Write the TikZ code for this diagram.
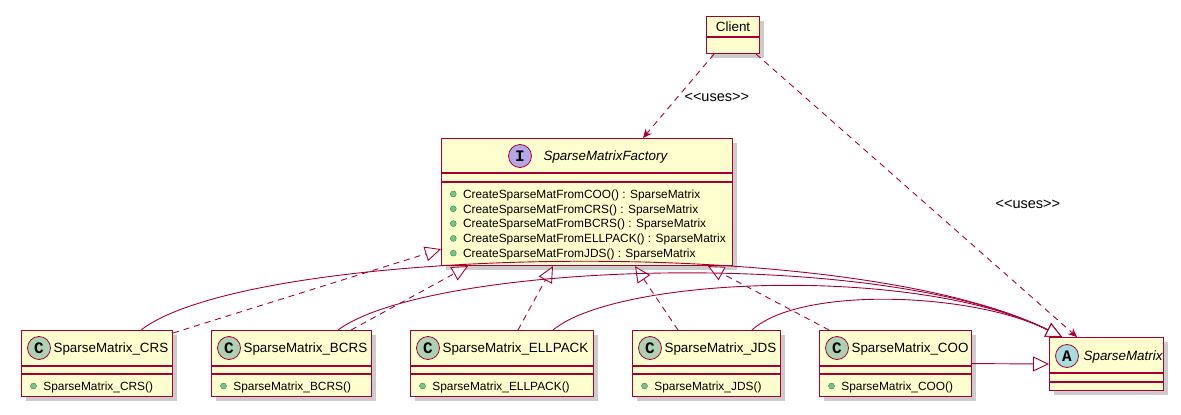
\documentclass[tikz,border=0pt]{standalone}
\usepackage{fontspec}
\setmainfont{Liberation Sans}
\newfontfamily\badgefont{Liberation Mono}
\usetikzlibrary{arrows.meta, shadows, positioning}

\definecolor{umlred}{HTML}{A80036}
\definecolor{umlfill}{HTML}{FEFECE}
\definecolor{classgreen}{HTML}{ADD1B2}
\definecolor{ifacepurple}{HTML}{B4A7E5}
\definecolor{abstractblue}{HTML}{A9DCDF}
\definecolor{bulletgreen}{HTML}{84BE84}
\definecolor{bulletdark}{HTML}{038048}

\newcommand{\stereo}[1]{<\kern0pt<#1>\kern0pt>}

\tikzset{
  umlbox/.style={draw=umlred, fill=umlfill, line width=1.1pt, anchor=north west, inner sep=0pt,
    drop shadow={shadow xshift=4pt, shadow yshift=-4pt, fill=black!40}},
  sep/.style={draw=umlred, line width=1.1pt},
  badge/.style={circle, draw=umlred, line width=0.8pt, minimum size=23pt, inner sep=0pt,
    font=\badgefont\bfseries\fontsize{16}{16}\selectfont},
  cname/.style={anchor=west, inner sep=0pt, text height=9.7pt, text depth=0pt,
    font=\fontsize{13.4}{16}\selectfont},
  aname/.style={cname, font=\fontsize{13.4}{16}\selectfont\itshape},
  member/.style={anchor=west, inner sep=0pt, text height=8.5pt, text depth=0pt,
    font=\fontsize{11.9}{14}\selectfont},
  pub/.style={circle, fill=bulletgreen, draw=bulletdark, line width=0.3pt, minimum size=6pt, inner sep=0pt},
  gen/.style={draw=umlred, line width=0.9pt, -{Triangle[open, fill=white, length=16pt, width=15pt]}},
  real/.style={gen, dash pattern=on 6pt off 5pt},
  dep/.style={draw=umlred, line width=0.9pt, dash pattern=on 6pt off 5pt,
    -{Stealth[length=9pt, width=8pt, inset=3pt]}},
  lbl/.style={font=\fontsize{14.5}{16}\selectfont, inner sep=0pt}
}

\begin{document}
\begin{tikzpicture}[x=1pt, y=-1pt]
  \useasboundingbox (0,0) rectangle (1181,415);

  % Client
  \node[umlbox, minimum width=53, minimum height=37] (client) at (706,16) {};
  \draw[sep] ([yshift=-21pt]client.north west) -- ([yshift=-21pt]client.north east);
  \node[cname, anchor=center] (client-name) at ([yshift=-10.5pt]client.north) {Client};

  % Interface
  \node[umlbox, minimum width=291, minimum height=127] (factory) at (441,138) {};
  \draw[sep] ([yshift=-35pt]factory.north west) -- ([yshift=-35pt]factory.north east)
             ([yshift=-44pt]factory.north west) -- ([yshift=-44pt]factory.north east);
  \node[badge, fill=ifacepurple] (factory-badge) at (520,156) {I};
  \node[aname, right=11.5pt of factory-badge] (factory-name) {SparseMatrixFactory};
  \foreach \m [count=\i] in {COO, CRS, BCRS, ELLPACK, JDS} {
    \node[pub] (factory-pub\i) at (453.3,179.2+14.8*\i) {};
    \node[member, right=6.4pt of factory-pub\i] {CreateSparseMatFrom\m() : SparseMatrix};
  }

  % Abstract class
  \node[umlbox, minimum width=114, minimum height=53] (SM) at (1049,337) {};
  \draw[sep] ([yshift=-36pt]SM.north west) -- ([yshift=-36pt]SM.north east)
             ([yshift=-45pt]SM.north west) -- ([yshift=-45pt]SM.north east);
  \node[badge, fill=abstractblue] (SM-badge) at ([xshift=18pt, yshift=-19pt]SM.north west) {A};
  \node[aname, right=4.5pt of SM-badge] (SM-name) {SparseMatrix};

  % Concrete classes
  \foreach \nm/\lx/\w in {CRS/21/151, BCRS/211/160, ELLPACK/410/183, JDS/632/148, COO/819/152} {
    \node[umlbox, minimum width=\w, minimum height=66] (\nm) at (\lx,330) {};
    \draw[sep] ([yshift=-36pt]\nm.north west) -- ([yshift=-36pt]\nm.north east)
               ([yshift=-44pt]\nm.north west) -- ([yshift=-44pt]\nm.north east);
    \node[badge, fill=classgreen] (\nm-badge) at ([xshift=18pt, yshift=-18pt]\nm.north west) {C};
    \node[cname, right=2.5pt of \nm-badge] (\nm-name) {SparseMatrix\_\nm};
    \node[pub] (\nm-pub) at ([xshift=12.5pt, yshift=-56pt]\nm.north west) {};
    \node[member, right=6.5pt of \nm-pub] {SparseMatrix\_\nm()};
  }

  % Dependencies
  \draw[dep] ([xshift=8pt]client.south west) -- ([xshift=202pt]factory.north west)
    node[lbl, pos=0.52, right=7pt] {\stereo{uses}};
  \draw[dep] ([xshift=-4pt]client.south east) -- ([xshift=28pt]SM.north west)
    node[lbl, pos=0.53, right=69pt] {\stereo{uses}};

  % Realizations
  \draw[real] ([yshift=-3pt]CRS.north east) -- ([yshift=17pt]factory.south west);
  \draw[real] ([xshift=-21pt]BCRS.north east) -- ([xshift=27pt]factory.south west);
  \draw[real] ([xshift=108pt]ELLPACK.north west) -- ([xshift=112pt]factory.south west);
  \draw[real] ([xshift=46pt]JDS.north west) -- ([xshift=194pt]factory.south west);
  \draw[real] ([xshift=10pt]COO.north west) -- ([xshift=267pt]factory.south west);

  % Generalizations
  \coordinate (SM-tip) at ([xshift=13pt]SM.north west);
  \draw[gen] ([xshift=120pt]CRS.north west) .. controls +(109,-84) and +(-212,-106) .. (SM-tip);
  \draw[gen] ([xshift=127pt]BCRS.north west) .. controls +(92,-68) and +(-182,-91) .. (SM-tip);
  \draw[gen] ([xshift=143pt]ELLPACK.north west) .. controls +(67,-55) and +(-142,-71) .. (SM-tip);
  \draw[gen] ([xshift=120pt]JDS.north west) .. controls +(48,-44) and +(-90,-45) .. (SM-tip);
  \draw[gen] (COO.east) -- (SM.west);
\end{tikzpicture}
\end{document}
